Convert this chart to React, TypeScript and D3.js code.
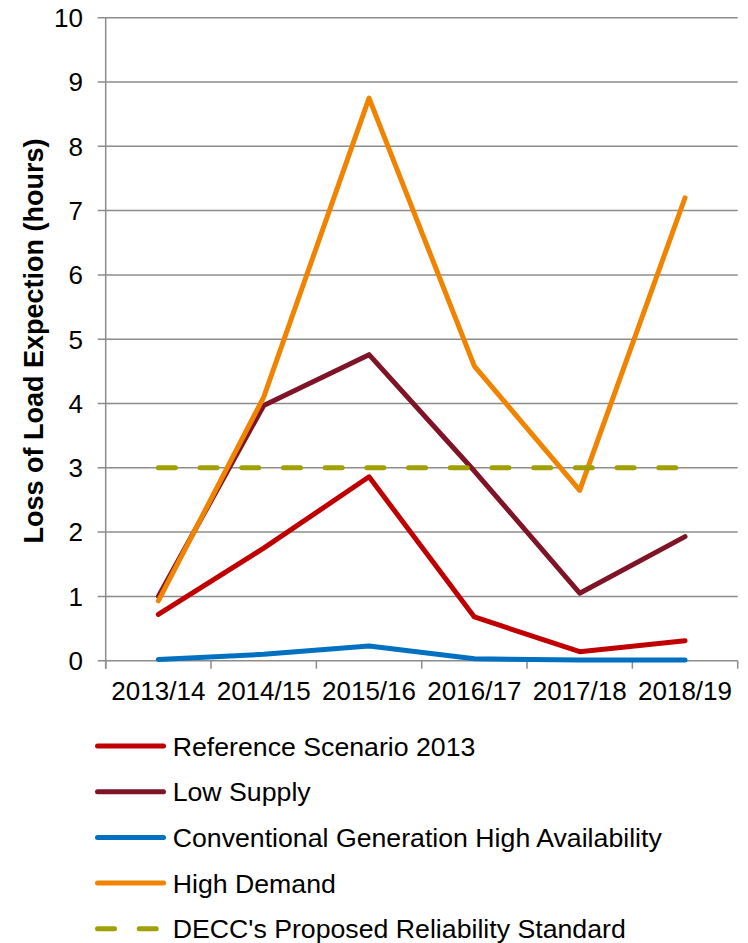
import React from "react";
import * as d3 from "d3";

const categories = ["2013/14", "2014/15", "2015/16", "2016/17", "2017/18", "2018/19"];
const referenceScenario = [0.72, 1.75, 2.86, 0.68, 0.14, 0.31];
const lowSupply = [1.0, 3.97, 4.76, 2.95, 1.05, 1.93];
const conventionalHigh = [0.02, 0.1, 0.23, 0.03, 0.01, 0.01];
const highDemand = [0.93, 4.1, 8.75, 4.58, 2.65, 7.2];
const reliabilityStandard = [3, 3, 3, 3, 3, 3];
const yTicks = [0, 1, 2, 3, 4, 5, 6, 7, 8, 9, 10];

const seriesList = [
  { name: "Reference Scenario 2013", values: referenceScenario, color: "#C00000", dashed: false },
  { name: "Low Supply", values: lowSupply, color: "#7F1427", dashed: false },
  { name: "Conventional Generation High Availability", values: conventionalHigh, color: "#0070C0", dashed: false },
  { name: "High Demand", values: highDemand, color: "#F08300", dashed: false },
  { name: "DECC's Proposed Reliability Standard", values: reliabilityStandard, color: "#A0A000", dashed: true },
];

const W = 748;
const H = 943;
const left = 105.7;
const right = 737.7;
const top = 17.7;
const bottom = 660.7;

export default function App() {
  const x = d3.scaleBand<string>().domain(categories).range([left, right]).padding(0);
  const y = d3.scaleLinear().domain([0, 10]).range([bottom, top]);
  const cx = (c: string) => (x(c) as number) + x.bandwidth() / 2;
  const line = d3
    .line<number>()
    .x((_, i) => cx(categories[i]))
    .y((v) => y(v));
  const font = "Arial, 'Liberation Sans', Helvetica, sans-serif";
  const boundaries = categories.map((c) => x(c) as number).concat([right]);
  const legendTop = 746;
  const legendStep = 45.7;

  return (
    <svg width={W} height={H} style={{ position: "absolute", left: 0, top: 0 }} fontFamily={font}>
      <rect x={0} y={0} width={W} height={H} fill="#fff" />
      {yTicks.map((t) => (
        <line key={"g" + t} x1={left - 8} x2={right} y1={y(t)} y2={y(t)} stroke="#8c8c8c" strokeWidth={1.5} />
      ))}
      <line x1={left} x2={left} y1={top} y2={bottom + 8} stroke="#8c8c8c" strokeWidth={1.5} />
      {boundaries.map((b, i) => (
        <line key={"xt" + i} x1={b} x2={b} y1={bottom} y2={bottom + 8} stroke="#8c8c8c" strokeWidth={1.5} />
      ))}
      {yTicks.map((t) => (
        <text key={"yl" + t} x={83} y={y(t)} dy="0.36em" textAnchor="end" fontSize={26} fill="#000">
          {t}
        </text>
      ))}
      {categories.map((c) => (
        <text key={"xl" + c} x={cx(c)} y={700} textAnchor="middle" fontSize={26} fill="#000">
          {c}
        </text>
      ))}
      <text
        transform={`translate(43,341) rotate(-90)`}
        textAnchor="middle"
        fontSize={27}
        fontWeight="bold"
        fill="#000"
      >
        Loss of Load Expection (hours)
      </text>
      {seriesList.map((s) => (
        <path
          key={s.name}
          d={line(s.values) as string}
          fill="none"
          stroke={s.color}
          strokeWidth={5}
          strokeLinejoin="round"
          strokeLinecap="round"
          strokeDasharray={s.dashed ? "17 24.7" : undefined}
        />
      ))}
      {seriesList.map((s, i) => {
        const ly = legendTop + i * legendStep;
        return (
          <g key={"lg" + s.name}>
            <line
              x1={97.5}
              x2={163.5}
              y1={ly}
              y2={ly}
              stroke={s.color}
              strokeWidth={5}
              strokeLinecap="round"
              strokeDasharray={s.dashed ? "17 24.7" : undefined}
            />
            <text x={172.7} y={ly} dy="0.36em" fontSize={26.7} fill="#000">
              {s.name}
            </text>
          </g>
        );
      })}
    </svg>
  );
}
